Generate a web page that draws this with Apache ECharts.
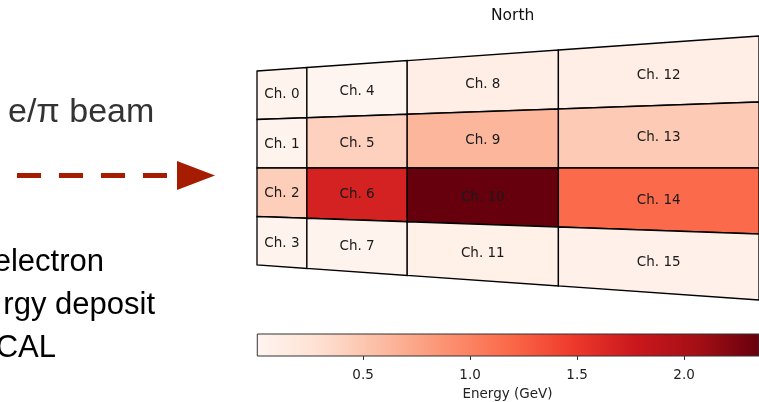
<!DOCTYPE html>
<html>
<head>
<meta charset="utf-8">
<script src="https://cdn.jsdelivr.net/npm/echarts@6/dist/echarts.min.js"></script>
<style>
  html, body { margin: 0; padding: 0; background: #fff; }
  #chart { width: 759px; height: 402px; }
</style>
</head>
<body>
<div id="chart"></div>
<script>
// channel numbers, laid out 4 per column (top to bottom)
const channels = [0, 1, 2, 3, 4, 5, 6, 7, 8, 9, 10, 11, 12, 13, 14, 15];
// energy deposit per channel (GeV)
const energies = [0.03, 0.03, 0.44, 0.03, 0.006, 0.42, 1.69, 0.03,
                  0.10, 0.63, 2.35, 0.08, 0.10, 0.47, 1.17, 0.07];
const colorbarTicks = [0.5, 1.0, 1.5, 2.0];

// layout of the fan-shaped detector face (grid units)
const colEdges = [0, 50.5, 152, 305, 508];
const halfLeft = 97, halfRight = 132;
function half(x) {
    return halfLeft + (halfRight - halfLeft) * x / colEdges[colEdges.length - 1];
}

// matplotlib "Reds"
const reds = ['#fff5f0', '#fee0d2', '#fcbba1', '#fc9272', '#fb6a4a',
              '#ef3b2c', '#cb181d', '#a50f15', '#67000d'];

const vmin = Math.min(...energies);
const vmax = Math.max(...energies);

const cellData = channels.map((ch, i) => [Math.floor(ch / 4), ch % 4, energies[i], ch]);

function renderCell(params, api) {
    var col = api.value(0), row = api.value(1);
    var xa = colEdges[col], xb = colEdges[col + 1];
    var ft = 1 - row * 0.5, fb = ft - 0.5;
    var pts = [[xa, ft * half(xa)], [xb, ft * half(xb)], [xb, fb * half(xb)], [xa, fb * half(xa)]]
        .map(p => api.coord(p));
    var cx = (pts[0][0] + pts[1][0] + pts[2][0] + pts[3][0]) / 4;
    var cy = (pts[0][1] + pts[1][1] + pts[2][1] + pts[3][1]) / 4;
    return {
        type: 'group',
        children: [
            {
                type: 'polygon',
                shape: {points: pts},
                style: {fill: api.visual('color'), stroke: '#000', lineWidth: 1.3}
            },
            {
                type: 'text',
                x: cx,
                y: cy + 1,
                z2: 10,
                style: {
                    text: 'Ch. ' + api.value(3),
                    fill: '#1a1a1a',
                    font: '13.5px "DejaVu Sans"',
                    textAlign: 'center',
                    textVerticalAlign: 'middle'
                }
            }
        ]
    };
}

function renderColorbar(params, api) {
    var p0 = api.coord([api.value(0), 1]);
    var p1 = api.coord([api.value(1), 0]);
    var stops = reds.map((c, i) => ({offset: i / (reds.length - 1), color: c}));
    return {
        type: 'rect',
        shape: {x: p0[0], y: p0[1], width: p1[0] - p0[0], height: p1[1] - p0[1]},
        style: {
            fill: new echarts.graphic.LinearGradient(0, 0, 1, 0, stops),
            stroke: '#333',
            lineWidth: 1
        }
    };
}

var myChart = echarts.init(document.getElementById('chart'), null, {renderer: 'canvas'});

var option = {
    animation: false,
    backgroundColor: '#fff',
    grid: [
        {left: 257, top: 18, width: 508, height: 300},
        {left: 256, top: 334, width: 510, height: 25}
    ],
    xAxis: [
        {type: 'value', gridIndex: 0, min: 0, max: 508, show: false},
        {
            type: 'value', gridIndex: 1, min: 0, max: 2.35, interval: 0.5,
            axisLine: {show: false},
            splitLine: {show: false},
            axisTick: {show: true, length: 4, customValues: colorbarTicks, lineStyle: {color: '#333'}},
            axisLabel: {
                customValues: colorbarTicks,
                margin: 12,
                color: '#222',
                fontFamily: 'DejaVu Sans',
                fontSize: 13.5,
                formatter: v => v.toFixed(1)
            },
            name: 'Energy (GeV)',
            nameLocation: 'middle',
            nameGap: 31,
            nameTextStyle: {color: '#222', fontFamily: 'DejaVu Sans', fontSize: 13.5}
        }
    ],
    yAxis: [
        {type: 'value', gridIndex: 0, min: -150, max: 150, show: false},
        {type: 'value', gridIndex: 1, min: 0, max: 1, show: false}
    ],
    visualMap: {
        show: false,
        type: 'continuous',
        seriesIndex: 0,
        dimension: 2,
        min: vmin,
        max: vmax,
        inRange: {color: reds}
    },
    series: [
        {
            type: 'custom',
            xAxisIndex: 0,
            yAxisIndex: 0,
            renderItem: renderCell,
            data: cellData
        },
        {
            type: 'custom',
            xAxisIndex: 1,
            yAxisIndex: 1,
            renderItem: renderColorbar,
            data: [[vmin, vmax]]
        }
    ],
    graphic: [
        {
            type: 'text', x: 512.7, y: 16,
            style: {text: 'North', font: '15.5px "DejaVu Sans"', fill: '#111', textAlign: 'center', textVerticalAlign: 'middle'}
        },
        {
            type: 'text', x: 8, y: 113,
            style: {text: 'e/π beam', font: '34px "Liberation Sans"', fill: '#333', textAlign: 'left', textVerticalAlign: 'middle'}
        },
        {
            type: 'line',
            shape: {x1: 17, y1: 175.5, x2: 168, y2: 175.5},
            style: {stroke: '#a61c00', lineWidth: 5, lineDash: [24, 18]}
        },
        {
            type: 'polygon',
            shape: {points: [[177, 161], [215, 175.5], [177, 190]]},
            style: {fill: '#a61c00'}
        },
        {
            type: 'text', x: 104, y: 262,
            style: {text: 'electron', font: '31px "Liberation Sans"', fill: '#000', textAlign: 'right', textVerticalAlign: 'middle'}
        },
        {
            type: 'text', x: 155, y: 305,
            style: {text: 'rgy deposit', font: '31px "Liberation Sans"', fill: '#000', textAlign: 'right', textVerticalAlign: 'middle'}
        },
        {
            type: 'text', x: 56, y: 348,
            style: {text: 'CAL', font: '31px "Liberation Sans"', fill: '#000', textAlign: 'right', textVerticalAlign: 'middle'}
        }
    ]
};

myChart.setOption(option);
</script>
</body>
</html>
